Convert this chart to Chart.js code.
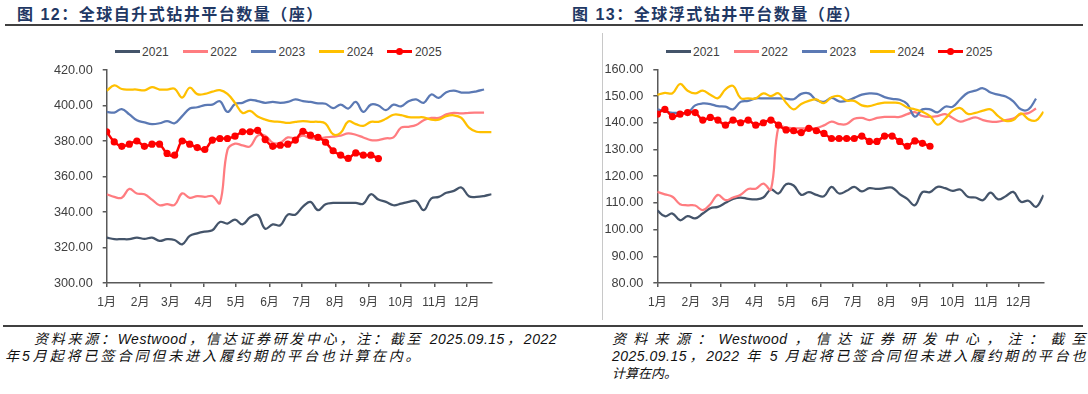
<!DOCTYPE html>
<html>
<head>
<meta charset="utf-8">
<script src="https://cdn.jsdelivr.net/npm/chart.js@4.4.1/dist/chart.umd.min.js"></script>
<style>
  body { margin: 0; width: 1088px; height: 394px; background: #fff; position: relative; overflow: hidden;
         font-family: "Liberation Sans", "Noto Sans CJK SC", sans-serif; }
  .title { position: absolute; top: 4px; line-height: 22px; font-size: 16px; font-weight: bold;
           letter-spacing: 1.5px; color: #1f3864; white-space: nowrap; }
  .rule { position: absolute; background: #404040; }
  .frame { position: absolute; left: 602px; top: 33px; width: 1px; height: 287px; background: #c8c8c8; }
  canvas { position: absolute; }
  .legend { position: absolute; top: 44px; height: 15px; display: flex; align-items: center; gap: 14px;
            font-size: 12px; color: #404040; }
  .legend .item { display: flex; align-items: center; }
  .legend .sample { position: relative; width: 25px; height: 2.5px; margin-right: 2.5px; }
  .legend .dot { position: absolute; left: 9px; top: -2.5px; width: 7px; height: 7px; border-radius: 50%; }
  .note { position: absolute; font-size: 14px; font-style: italic; line-height: 17px;
          color: #111; white-space: nowrap; }
  .note.just { text-align: justify; text-align-last: justify; letter-spacing: 0.5px; }
</style>
</head>
<body>
<div class="title" style="left:17px">图 12：全球自升式钻井平台数量（座）</div>
<div class="title" style="left:572px">图 13：全球浮式钻井平台数量（座）</div>
<div class="rule" style="left:5px; top:24px; width:1078px; height:1.5px"></div>
<div class="frame"></div>

<div class="legend" id="legendJack" style="left:114.6px"></div>
<div class="legend" id="legendFloat" style="left:665.5px"></div>

<canvas id="jackChart" width="522" height="273" style="left:20px; top:40px"></canvas>
<canvas id="floatChart" width="523" height="273" style="left:560px; top:40px"></canvas>

<div class="rule" style="left:3px; top:325px; width:1080px; height:2px"></div>
<div class="note just" style="left:34px; top:331px; width:523px">资料来源：Westwood，信达证券研发中心，注：截至 2025.09.15，2022</div>
<div class="note" style="left:5px; top:348px; letter-spacing:2.95px">年5月起将已签合同但未进入履约期的平台也计算在内。</div>
<div class="note just" style="left:612px; top:331px; width:474px">资料来源：Westwood，信达证券研发中心，注：截至</div>
<div class="note just" style="left:612px; top:348px; width:474px">2025.09.15，2022 年 5 月起将已签合同但未进入履约期的平台也</div>
<div class="note" style="left:612px; top:365px; font-size:13px">计算在内。</div>

<script>
// weekly counts, one value per week from the start of the year
const seriesNames = ["2021", "2022", "2023", "2024", "2025"];
const seriesColors = ["#44546a", "#ff7c80", "#5b79b4", "#ffc000", "#ff0000"];

const monthStartDays = [0, 31, 59, 90, 120, 151, 181, 212, 243, 273, 304, 334];
const monthLabels = ["1月", "2月", "3月", "4月", "5月", "6月", "7月", "8月", "9月", "10月", "11月", "12月"];
const axisEndDay = 357;
const weekDays = 7;

// 图12 自升式
const jack2021 = [325.6, 324.7, 324.7, 324.7, 325.6, 324.8, 325.6, 323.7, 324.7, 324.2, 321.8, 326.5, 328.0, 329.0, 329.7, 334.4, 333.5, 335.7, 333.0, 337.0, 338.3, 330.6, 333.0, 332.5, 338.5, 338.5, 343.0, 345.7, 341.0, 344.4, 345.1, 345.1, 345.1, 345.1, 344.7, 350.0, 347.0, 345.7, 343.8, 344.7, 345.7, 346.2, 341.0, 347.6, 348.5, 350.8, 351.9, 353.8, 348.9, 348.5, 349.0, 350.0];
const jack2022 = [350.0, 348.5, 348.0, 353.0, 350.4, 350.0, 347.0, 343.8, 344.4, 344.0, 350.5, 348.0, 349.0, 348.5, 349.0, 345.0, 375.0, 378.5, 377.5, 377.0, 383.0, 383.0, 379.0, 379.0, 382.0, 381.5, 383.0, 381.5, 381.5, 382.0, 382.5, 383.0, 384.3, 383.5, 382.0, 380.5, 380.5, 381.5, 382.0, 387.5, 388.0, 389.0, 391.7, 393.0, 393.0, 395.0, 395.9, 395.5, 395.9, 396.0, 396.0];
const jack2023 = [396.4, 396.0, 398.0, 395.0, 391.7, 390.5, 389.5, 390.0, 391.2, 390.0, 394.0, 398.3, 399.0, 400.2, 400.5, 402.4, 396.4, 400.8, 401.5, 403.2, 402.5, 401.5, 402.0, 401.5, 402.0, 403.4, 402.5, 402.0, 401.2, 401.0, 398.5, 400.5, 398.3, 402.0, 396.4, 400.5, 400.0, 397.4, 400.5, 399.5, 402.4, 403.4, 401.5, 406.2, 404.3, 407.5, 408.4, 407.3, 407.3, 408.0, 409.0];
const jack2024 = [408.3, 411.3, 409.3, 409.0, 409.0, 408.5, 410.3, 409.0, 409.0, 409.5, 404.5, 410.0, 406.4, 406.5, 407.8, 408.6, 406.5, 401.5, 395.8, 397.0, 393.8, 392.1, 391.0, 390.8, 390.2, 390.8, 391.2, 390.8, 390.8, 389.8, 383.8, 384.6, 391.0, 389.5, 388.5, 390.8, 390.8, 392.5, 394.8, 394.6, 393.5, 393.3, 393.3, 392.0, 392.0, 394.0, 394.5, 393.0, 387.5, 385.2, 385.0, 385.0];
const jack2025 = [385.2, 379.5, 377.0, 378.2, 380.0, 377.0, 378.2, 378.2, 373.0, 372.0, 380.0, 378.2, 376.3, 375.2, 380.5, 381.4, 381.4, 382.7, 385.2, 385.2, 386.0, 380.8, 377.0, 377.6, 378.2, 380.5, 385.5, 383.3, 382.0, 379.3, 374.5, 372.0, 370.2, 373.3, 372.0, 372.0, 370.1];

// 图13 浮式
const float2021 = [107.2, 105.0, 106.0, 103.5, 105.0, 104.2, 106.0, 108.0, 108.5, 110.0, 111.5, 112.0, 111.5, 111.3, 112.0, 115.0, 113.5, 117.0, 116.5, 113.0, 114.0, 113.0, 112.5, 116.0, 113.5, 114.5, 116.0, 114.3, 115.5, 115.2, 115.5, 115.7, 113.3, 111.5, 109.1, 114.0, 114.0, 116.0, 115.5, 114.5, 115.0, 112.3, 112.0, 111.0, 113.8, 111.3, 112.5, 114.1, 110.4, 110.8, 108.5, 112.9];
const float2022 = [114.1, 113.2, 112.3, 109.5, 109.1, 109.0, 107.3, 109.5, 113.0, 111.0, 112.0, 113.0, 115.2, 115.3, 117.2, 115.0, 138.5, 138.2, 137.9, 137.9, 137.9, 138.0, 139.0, 140.4, 139.5, 139.5, 141.5, 141.8, 141.0, 141.8, 142.2, 142.2, 142.2, 143.2, 144.0, 142.5, 142.2, 142.5, 143.2, 141.8, 140.4, 141.2, 142.0, 141.0, 140.4, 140.4, 141.0, 141.6, 143.2, 143.6, 145.3];
const float2023 = [145.0, 144.2, 143.7, 143.7, 143.7, 146.5, 147.2, 147.0, 146.2, 146.0, 145.0, 147.8, 148.2, 149.1, 149.1, 149.1, 149.1, 149.0, 148.8, 150.8, 151.0, 148.5, 147.8, 149.3, 148.0, 148.2, 149.3, 150.5, 151.0, 150.8, 149.6, 148.9, 148.6, 147.0, 142.3, 145.0, 145.0, 143.9, 146.0, 146.0, 148.8, 151.2, 152.0, 152.9, 151.3, 150.5, 149.8, 148.0, 145.0, 145.0, 149.0];
const float2024 = [150.4, 151.2, 151.0, 154.5, 152.0, 151.0, 152.0, 150.5, 149.2, 152.5, 153.8, 149.2, 149.1, 149.1, 151.0, 150.0, 151.0, 147.5, 145.0, 147.0, 148.2, 148.7, 147.3, 149.5, 150.0, 148.3, 148.2, 146.5, 146.2, 147.0, 147.5, 147.5, 147.3, 145.7, 145.0, 144.1, 142.5, 139.3, 141.5, 144.5, 145.5, 143.3, 143.7, 144.5, 145.0, 142.5, 140.7, 141.0, 143.5, 141.3, 140.8, 144.1];
const float2025 = [143.2, 145.0, 142.3, 143.2, 143.8, 143.8, 141.0, 142.0, 141.0, 139.1, 141.0, 140.0, 141.0, 139.1, 140.0, 141.0, 139.1, 137.3, 137.0, 136.3, 137.9, 137.0, 136.0, 134.1, 134.1, 134.1, 134.1, 135.0, 133.0, 133.0, 135.0, 135.0, 133.0, 131.2, 133.2, 132.3, 131.2];

const jackTicks = { min: 300, max: 420, step: 20 };
const floatTicks = { min: 80, max: 160, step: 10 };

const axisColor = "#595959";
const labelColor = "#404040";

function buildLegend(id) {
  const box = document.getElementById(id);
  seriesNames.forEach((name, i) => {
    const item = document.createElement("div");
    item.className = "item";
    const dot = i === seriesNames.length - 1 ? `<span class="dot" style="background:${seriesColors[i]}"></span>` : "";
    item.innerHTML = `<span class="sample" style="background:${seriesColors[i]}">${dot}</span><span>${name}</span>`;
    box.appendChild(item);
  });
}

function makeChart(canvasId, seriesList, yTicks, layout) {
  const datasets = seriesList.map((values, i) => {
    const isCurrent = i === seriesList.length - 1;
    return {
      label: seriesNames[i],
      data: values.map((v, w) => ({ x: w * weekDays, y: v })),
      borderColor: seriesColors[i],
      backgroundColor: seriesColors[i],
      borderWidth: isCurrent ? 2.5 : 2.25,
      pointRadius: isCurrent ? 3.6 : 0,
      pointBorderWidth: 0,
      tension: 0.4,
      fill: false,
      order: seriesList.length - i
    };
  });

  return new Chart(document.getElementById(canvasId), {
    type: "line",
    data: { datasets },
    options: {
      responsive: false,
      animation: false,
      layout: { padding: { top: layout.top, right: layout.right, left: 0, bottom: 0 } },
      plugins: { legend: { display: false }, tooltip: { enabled: false } },
      scales: {
        x: {
          type: "linear",
          min: 0,
          max: axisEndDay,
          afterBuildTicks: s => { s.ticks = monthStartDays.map(d => ({ value: d })); },
          afterFit: s => { s.height = 30; },
          ticks: {
            autoSkip: false,
            maxRotation: 0,
            padding: 8,
            color: labelColor,
            font: { size: 12, family: '"Liberation Sans", "Noto Sans CJK SC"' },
            callback: (v, i) => monthLabels[i]
          },
          grid: { drawOnChartArea: false, tickLength: 4, color: axisColor, lineWidth: 1.5 },
          border: { color: axisColor, width: 1.5 }
        },
        y: {
          min: yTicks.min,
          max: yTicks.max,
          afterFit: s => { s.width = layout.axisWidth; },
          ticks: {
            stepSize: yTicks.step,
            padding: 10,
            color: labelColor,
            font: { size: 12.7, family: '"Liberation Sans"' },
            callback: v => v.toFixed(2)
          },
          grid: { drawOnChartArea: false, tickLength: 4, color: axisColor, lineWidth: 1.5 },
          border: { color: axisColor, width: 1.5 }
        }
      }
    }
  });
}

buildLegend("legendJack");
buildLegend("legendFloat");

makeChart("jackChart", [jack2021, jack2022, jack2023, jack2024, jack2025], jackTicks,
  { top: 30, right: 50.4, axisWidth: 86.7 });
makeChart("floatChart", [float2021, float2022, float2023, float2024, float2025], floatTicks,
  { top: 29.3, right: 39.4, axisWidth: 97.3 });
</script>
</body>
</html>
